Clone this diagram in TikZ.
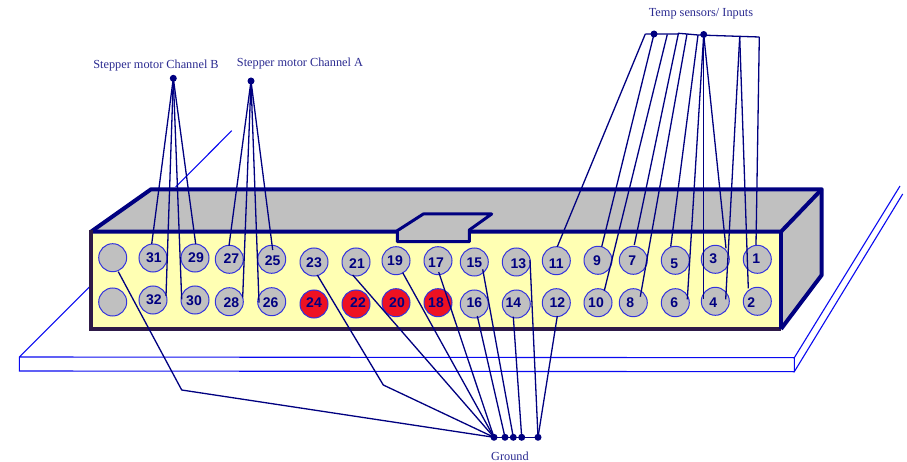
\documentclass[tikz,border=0pt]{standalone}
\usepackage{fontspec}
\setmainfont{Liberation Serif}
\newfontfamily\pinfont{Liberation Sans}
\usetikzlibrary{calc}
\definecolor{navyw}{HTML}{000080}
\definecolor{plateblue}{HTML}{0A0AF0}
\definecolor{pinedge}{HTML}{3333DD}
\definecolor{pingrey}{HTML}{C0C0C0}
\definecolor{pinred}{HTML}{EE1122}
\definecolor{boxyellow}{HTML}{FFFFB3}
\definecolor{boxdark}{HTML}{2E1A47}
\definecolor{labelblue}{HTML}{2A2A90}
\tikzset{
  plate/.style={draw=plateblue,line width=1.1pt,line join=miter},
  boxline/.style={draw=navyw,line width=4pt,line join=round},
  pin/.style={circle,draw=pinedge,line width=1pt,fill=pingrey,minimum size=28pt,inner sep=0pt},
  hotpin/.style={pin,fill=pinred},
  pinnum/.style={font=\pinfont\bfseries\fontsize{14}{14}\selectfont,text=navyw,inner sep=0pt},
  wire/.style={draw=navyw,line width=1.3pt,line join=round},
  junction/.style={circle,fill=navyw,minimum size=7pt,inner sep=0pt},
  tag/.style={font=\fontsize{12.3}{14}\selectfont,text=labelblue,inner sep=0pt},
}
\begin{document}
\begin{tikzpicture}[x=1pt,y=-1pt]
\useasboundingbox (0,0) rectangle (907,462);
% plate
\draw[plate] (89.3,287) -- (19.3,357) -- (19.3,371) -- (794.3,371.7) -- (794.3,357.7) -- (19.3,357);
\draw[plate] (794.3,357.7) -- (900,186);
\draw[plate] (794.3,371.7) -- (902.7,194);
\draw[plate] (175.7,187) -- (231.7,130.7);
% box
\fill[pingrey] (91,231.7) -- (151,189.3) -- (821.7,189.3) -- (821.7,275) -- (781,329) -- (781,231.7) -- cycle;
\fill[boxyellow] (91,231.7) rectangle (781,329);
\draw[boxline] (91,231.7) -- (151,189.3) -- (821.7,189.3) -- (821.7,275) -- (781,329);
\draw[boxline] (91,231.7) -- (781,231.7) -- (821.7,189.3);
\draw[draw=boxdark,line width=4pt,line join=miter] (781,329) -- (91,329) -- (91,229.7);
\draw[boxline] (781,231.7) -- (781,329);
\filldraw[boxline,fill=pingrey,line width=3pt] (397.3,230.7) -- (397.3,241.7) -- (469.3,241.7) -- (469.3,230) -- (491.7,214) -- (423.3,214) -- cycle;
% pins
\node[pin] (a) at (112.7,257.7) {};
\node[pin] (b) at (112.7,302) {};
\foreach \n/\x/\y/\dx/\dy in {31/153/258/1/0,32/153/300/1/0,29/195/258/1/0,30/195/300/-1/0.5,
  27/229.3/259.3/2/-1,28/229.3/301.7/2/1,25/271.7/259.3/1/1,26/271.7/301.7/-1/1,
  23/314/262/0/1,21/356/262/1/2,19/396/260.7/-1/0,17/438/260.7/-2/2,
  15/474.3/262/0/1,16/474.3/304/0/-1,13/516.3/262/2/2,14/516.3/304/-3/-1,
  11/556.3/260.7/0/3,12/556.3/302.7/1/0,9/598/260.3/-1/0,10/598/302.7/-2/0,
  7/633.3/260.3/-1/0,8/633.3/302.7/-3/0,5/675.3/260.3/-1/3,6/675.3/302.7/-1/0,
  3/715.3/259.3/-2/-1,4/715.3/301.3/-2/1,1/757.3/259.3/-1/-1,2/757.3/301.3/-6/1}{
  \node[pin] (p\n) at (\x,\y) {};
  \node[pinnum] (t\n) at (\x+\dx,\y+\dy) {\n};
}
\foreach \n/\x/\y/\dx/\dy in {24/314/304/0/-1,22/356/304/2/-1,20/396/302.7/1/0,18/438/302.7/-2/0}{
  \node[hotpin] (p\n) at (\x,\y) {};
  \node[pinnum] (t\n) at (\x+\dx,\y+\dy) {\n};
}
% junctions
\node[junction] (chB) at (173.3,78.3) {};
\node[junction] (chA) at (251,81) {};
\node[junction] (tmpL) at (654,34) {};
\node[junction] (tmpR) at (703.7,34.5) {};
\node[junction] (g1) at (494,437.3) {};
\node[junction] (g2) at (505,437.3) {};
\node[junction] (g3) at (513.3,437.3) {};
\node[junction] (g4) at (521.7,437.3) {};
\node[junction] (g5) at (538,437.3) {};
\coordinate (busL) at (645.3,34);
\coordinate (bus10) at (667.3,34.4);
\coordinate (bus7) at (678.3,34);
\coordinate (bus8) at (687,34);
\coordinate (bus5) at (698,35);
\coordinate (busJ) at (739.7,36.7);
\coordinate (busR) at (759.3,37);
\coordinate (kneeA) at (181.7,390);
\coordinate (kneeB) at (383.3,385);
% stepper wires
\draw[wire] (chB.center) -- ($(p31)+(-1.3,-14)$);
\draw[wire] (chB.center) -- ($(p32)+(13,-4)$);
\draw[wire] (chB.center) -- ($(p30)+(-13.3,-0.7)$);
\draw[wire] (chB.center) -- ($(p29)+(0.7,-14)$);
\draw[wire] (chA.center) -- ($(p27)+(-0.3,-13.6)$);
\draw[wire] (chA.center) -- ($(p28)+(13.4,-4.4)$);
\draw[wire] (chA.center) -- ($(p26)+(-12.7,1)$);
\draw[wire] (chA.center) -- ($(p25)+(1,-9.3)$);
% temperature wires
\draw[wire] (busL) -- (bus7) (bus8) -- (bus5) -- (busR);
\draw[wire] (bus7) -- ++(0,-0.7) -- (bus8);
\draw[wire] (busL) -- ($(p11)+(1,-14)$);
\draw[wire] (tmpL.center) -- ($(p9)+(3.7,-13.6)$);
\draw[wire] (bus10) -- ($(p10)+(6.3,-12)$);
\draw[wire] (bus7) -- ($(p7)+(1,-15.3)$);
\draw[wire] (bus8) -- ($(p8)+(7,-6)$);
\draw[wire] (bus5) -- ($(p5)+(-4.6,-13.6)$);
\draw[wire] (tmpR.center) -- ($(p6)+(12,-3.4)$);
\draw[wire] (tmpR.center) -- ($(p4)+(-11.6,-2)$);
\draw[wire] (tmpR.center) -- ($(p3)+(10.7,-11)$);
\draw[wire] (busJ) -- ($(p4)+(10.4,-2)$);
\draw[wire] (busJ) -- ($(p2)+(-9,-13)$);
\draw[wire] (busR) -- ($(p1)+(-1.3,-14.3)$);
% ground wires
\draw[wire] (g1.center) -- (g5.center);
\draw[wire] ($(a)+(5.6,14)$) -- (kneeA) -- (g1.center);
\draw[wire] ($(p23)+(3.3,13)$) -- (kneeB) -- (g1.center);
\draw[wire] ($(p21)+(-3.3,13)$) -- (g1.center);
\draw[wire] ($(p19)+(6.7,12)$) -- (g1.center);
\draw[wire] ($(p17)+(0.7,11.3)$) -- (g1.center);
\draw[wire] ($(p16)+(3,12)$) -- (g2.center);
\draw[wire] ($(p15)+(8.4,7.3)$) -- (g3.center);
\draw[wire] ($(p14)+(-3,12.7)$) -- (g4.center);
\draw[wire] ($(p13)+(13.7,-2)$) -- (g5.center);
\draw[wire] ($(p12)+(1,13.3)$) -- (g5.center);
% labels
\node[tag] (lblT) at (701,14) {Temp sensors/ Inputs};
\node[tag] (lblB) at (156,66) {Stepper motor Channel B};
\node[tag] (lblA) at (300,63.3) {Stepper motor Channel A};
\node[tag] (lblG) at (510,456) {Ground};
\end{tikzpicture}
\end{document}
